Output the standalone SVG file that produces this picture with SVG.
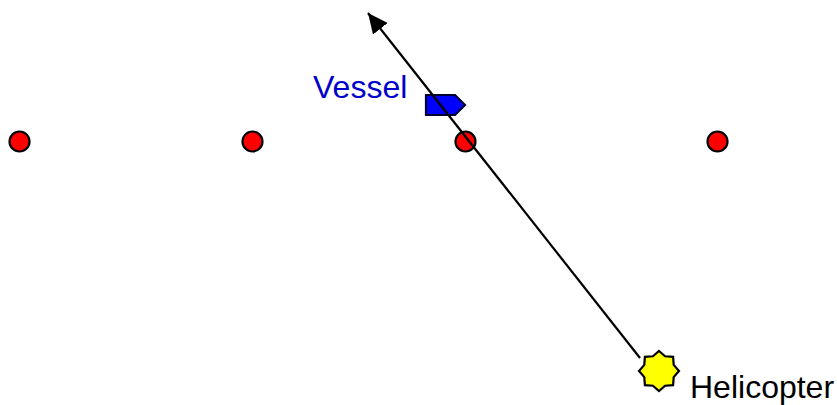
<svg xmlns="http://www.w3.org/2000/svg" width="837" height="405" viewBox="0 0 837 405">
<style>
.dot{fill:#ff0000;stroke:#000;stroke-width:2.200}
.lbl{font-family:"Liberation Sans",Arial,sans-serif;font-size:32px}
</style>
<defs>
<marker id="arr" markerUnits="userSpaceOnUse" markerWidth="20" markerHeight="20" refX="17" refY="8" orient="auto" viewBox="0 0 17 16"><path d="M0 0L17 8L0 16Z" fill="#000"/></marker>
</defs>
<rect width="837" height="405" fill="#fff"/>
<g id="buoy-1"><circle class="dot" cx="19.500" cy="141.500" r="10"/></g>
<g id="buoy-2"><circle class="dot" cx="252.500" cy="141.500" r="10"/></g>
<g id="buoy-3"><circle class="dot" cx="465.500" cy="141.500" r="10"/></g>
<g id="buoy-4"><circle class="dot" cx="717.500" cy="141.500" r="10"/></g>
<g id="vessel">
<path d="M426 95H455L465 105L455 115H426Z" fill="#0000ff" stroke="#000033" stroke-width="2.200"/>
<text class="lbl" x="313" y="98" fill="#0000cc">Vessel</text>
</g>
<g id="helicopter">
<path d="M659 351L665.100 356.300L673.100 356.900L673.700 364.900L679 371L673.700 377.100L673.100 385.100L665.100 385.700L659 391L652.900 385.700L644.900 385.100L644.300 377.100L639 371L644.300 364.900L644.900 356.900L652.900 356.300Z" fill="#ffff00" stroke="#000" stroke-width="2.200"/>
<text class="lbl" x="690" y="398" fill="#000">Helicopter</text>
</g>
<g id="connectors">
<path d="M640 358L368 13" fill="none" stroke="#000" stroke-width="2.200" marker-end="url(#arr)"/>
</g>
</svg>
